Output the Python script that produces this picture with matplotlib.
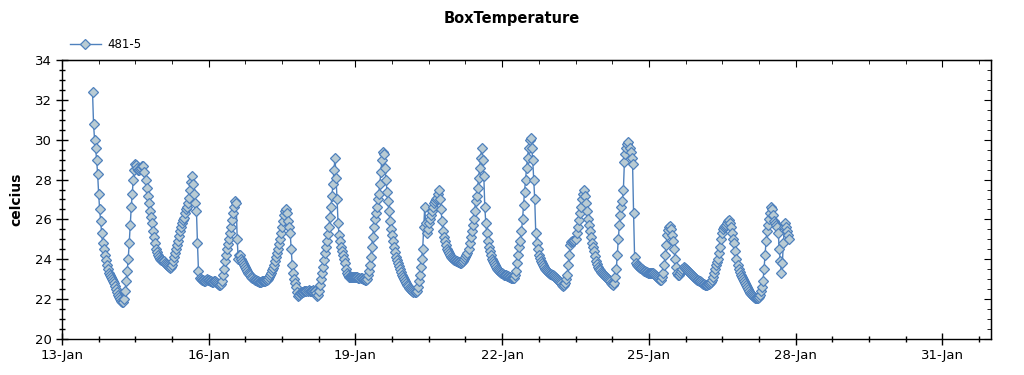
import matplotlib
matplotlib.use("Agg")
import matplotlib.pyplot as plt
import matplotlib.dates as mdates
import matplotlib.ticker as mticker
import pandas as pd

# half-hourly readings of sensor 481-5, first reading 13-Jan 15:00
start_time = "2012-01-13 15:00"
series_name = "481-5"

jan13 = [32.4, 30.8, 30.0, 29.6, 29.0, 28.3, 27.3, 26.5, 25.9, 25.3, 24.8, 24.5,
         24.2, 23.95, 23.7, 23.5, 23.3, 23.2]
jan14 = [23.1, 23.0, 22.9, 22.8, 22.65, 22.5, 22.35, 22.2, 22.1, 22.0, 21.9, 21.85,
         21.85, 22.0, 22.4, 22.9, 23.4, 24.0, 24.8, 25.7, 26.6, 27.3, 28.0, 28.5,
         28.8, 28.75, 28.6, 28.5, 28.5, 28.55, 28.6, 28.7, 28.7, 28.4, 28.0, 27.6,
         27.2, 26.8, 26.4, 26.1, 25.8, 25.4, 25.1, 24.8, 24.5, 24.35, 24.2, 24.1]
jan15 = [24.0, 23.98, 23.95, 23.92, 23.9, 23.82, 23.75, 23.7, 23.65, 23.6, 23.55, 23.6,
         23.7, 23.9, 24.1, 24.3, 24.5, 24.7, 24.9, 25.15, 25.4, 25.6, 25.8, 25.95,
         26.05, 26.3, 26.5, 26.6, 26.8, 27.1, 27.5, 27.9, 28.2, 27.8, 27.3, 26.8,
         26.4, 24.8, 23.4, 23.05, 23.0, 22.95, 22.95, 22.9, 22.9, 22.95, 23.0, 22.95]
jan16 = [22.95, 22.9, 22.9, 22.85, 22.85, 22.9, 22.9, 22.85, 22.8, 22.75, 22.7, 22.7,
         22.75, 22.9, 23.2, 23.5, 23.9, 24.2, 24.5, 24.75, 25.0, 25.3, 25.6, 25.95,
         26.3, 26.6, 26.9, 26.8, 25.0, 24.0, 24.2, 24.2, 24.0, 23.9, 23.8, 23.7,
         23.6, 23.5, 23.4, 23.3, 23.25, 23.2, 23.1, 23.05, 23.0, 22.97, 22.95, 22.92]
jan17 = [22.9, 22.88, 22.87, 22.88, 22.9, 22.9, 22.9, 22.92, 22.95, 22.97, 23.0, 23.1,
         23.2, 23.3, 23.45, 23.55, 23.7, 23.9, 24.1, 24.3, 24.5, 24.75, 25.0, 25.3,
         25.6, 25.9, 26.2, 26.4, 26.5, 26.3, 25.9, 25.6, 25.3, 24.5, 23.7, 23.3,
         23.0, 22.8, 22.6, 22.35, 22.15, 22.2, 22.3, 22.32, 22.35, 22.37, 22.4, 22.4]
jan18 = [22.4, 22.42, 22.45, 22.42, 22.4, 22.42, 22.45, 22.42, 22.4, 22.3, 22.15, 22.2,
         22.4, 22.7, 23.0, 23.3, 23.6, 23.95, 24.3, 24.6, 24.9, 25.25, 25.6, 26.1,
         26.6, 27.2, 27.8, 28.5, 29.1, 28.1, 27.0, 25.8, 25.2, 24.9, 24.6, 24.4,
         24.2, 24.0, 23.8, 23.5, 23.3, 23.2, 23.1, 23.1, 23.1, 23.1, 23.1, 23.1]
jan19 = [23.1, 23.1, 23.1, 23.08, 23.05, 23.05, 23.05, 23.02, 23.0, 22.97, 22.95, 23.0,
         23.2, 23.4, 23.7, 24.1, 24.6, 25.1, 25.6, 26.0, 26.3, 26.6, 27.0, 27.3,
         27.8, 28.4, 29.0, 29.4, 29.3, 28.6, 28.0, 27.4, 26.9, 26.4, 25.9, 25.5,
         25.2, 24.9, 24.6, 24.35, 24.1, 23.95, 23.8, 23.65, 23.5, 23.35, 23.2, 23.1]
jan20 = [23.0, 22.9, 22.8, 22.72, 22.65, 22.57, 22.5, 22.45, 22.4, 22.38, 22.37, 22.38,
         22.4, 22.6, 22.9, 23.2, 23.6, 24.0, 24.5, 25.6, 26.6, 25.8, 25.3, 25.5,
         25.8, 26.0, 26.2, 26.4, 26.6, 26.8, 26.9, 27.0, 27.1, 27.3, 27.5, 27.0,
         26.5, 25.9, 25.4, 25.1, 24.9, 24.7, 24.5, 24.4, 24.3, 24.2, 24.1, 24.05]
jan21 = [24.0, 23.97, 23.95, 23.92, 23.9, 23.87, 23.85, 23.82, 23.8, 23.85, 23.9, 24.0,
         24.1, 24.2, 24.3, 24.5, 24.8, 25.1, 25.4, 25.7, 26.0, 26.4, 26.9, 27.2,
         27.6, 28.1, 28.6, 29.1, 29.6, 29.0, 28.2, 26.6, 25.8, 25.3, 24.9, 24.6,
         24.4, 24.2, 24.0, 23.9, 23.8, 23.7, 23.6, 23.52, 23.45, 23.4, 23.35, 23.32]
jan22 = [23.3, 23.25, 23.2, 23.2, 23.2, 23.17, 23.15, 23.12, 23.1, 23.07, 23.05, 23.05,
         23.05, 23.2, 23.4, 23.8, 24.2, 24.6, 24.9, 25.4, 26.0, 26.7, 27.4, 28.0,
         28.6, 29.1, 29.6, 30.0, 30.1, 29.6, 29.0, 28.0, 27.0, 25.3, 24.8, 24.5,
         24.2, 24.05, 23.9, 23.8, 23.7, 23.6, 23.5, 23.45, 23.4, 23.35, 23.3, 23.27]
jan23 = [23.25, 23.22, 23.2, 23.17, 23.13, 23.07, 23.0, 22.95, 22.9, 22.85, 22.8, 22.7,
         22.65, 22.7, 22.8, 23.0, 23.2, 23.7, 24.2, 24.7, 24.85, 24.9, 24.9, 24.95,
         25.0, 25.3, 25.6, 25.95, 26.3, 26.6, 27.0, 27.3, 27.5, 27.2, 26.8, 26.4,
         26.0, 25.7, 25.4, 25.1, 24.8, 24.6, 24.4, 24.15, 23.9, 23.75, 23.6, 23.52]
jan24 = [23.45, 23.37, 23.3, 23.25, 23.2, 23.15, 23.1, 23.05, 23.0, 22.95, 22.9, 22.8,
         22.75, 22.7, 22.8, 23.1, 23.5, 24.2, 25.0, 25.7, 26.2, 26.6, 26.9, 27.5,
         28.9, 29.3, 29.6, 29.8, 29.9, 29.6, 29.4, 29.1, 28.8, 26.3, 24.1, 23.8,
         23.7, 23.65, 23.6, 23.57, 23.55, 23.5, 23.45, 23.42, 23.4, 23.37, 23.35, 23.32]
jan25 = [23.3, 23.3, 23.3, 23.3, 23.3, 23.25, 23.2, 23.15, 23.1, 23.05, 23.0, 22.97,
         22.96, 23.1, 23.3, 23.7, 24.2, 24.7, 25.2, 25.45, 25.6, 25.65, 25.5, 25.2,
         24.9, 24.5, 24.0, 23.6, 23.3, 23.2, 23.2, 23.3, 23.4, 23.5, 23.6, 23.55,
         23.5, 23.45, 23.4, 23.35, 23.3, 23.25, 23.2, 23.15, 23.1, 23.05, 23.0, 22.97]
jan26 = [22.96, 22.93, 22.9, 22.85, 22.8, 22.77, 22.75, 22.72, 22.7, 22.72, 22.75, 22.77,
         22.8, 22.87, 22.95, 23.1, 23.3, 23.5, 23.7, 23.85, 24.0, 24.3, 24.6, 25.0,
         25.3, 25.5, 25.6, 25.65, 25.7, 25.8, 25.9, 25.95, 25.8, 25.6, 25.3, 25.0,
         24.8, 24.4, 24.0, 23.7, 23.5, 23.35, 23.2, 23.1, 23.0, 22.9, 22.8, 22.7]
jan27 = [22.6, 22.5, 22.4, 22.32, 22.25, 22.2, 22.15, 22.1, 22.05, 22.04, 22.05, 22.08,
         22.1, 22.2, 22.4, 22.6, 22.9, 23.5, 24.2, 24.9, 25.4, 25.7, 26.0, 26.3,
         26.6, 26.5, 26.2, 25.9, 25.8, 25.7, 25.6, 25.3, 24.5, 23.9, 23.3, 23.8,
         24.8, 25.6, 25.8, 25.6, 25.4, 25.2, 25.0]

temps = (jan13 + jan14 + jan15 + jan16 + jan17 + jan18 + jan19 + jan20 +
         jan21 + jan22 + jan23 + jan24 + jan25 + jan26 + jan27)
times = pd.date_range(start_time, periods=len(temps), freq="30min")

line_col = "#4f81bd"
face_col = "#b9cbd3"

x_start = pd.Timestamp("2012-01-13")
x_end = pd.Timestamp("2012-02-01")
# major tick every 3 days, 3 minor ticks between (every 18 h)
major_ticks = mdates.date2num(pd.date_range(x_start, "2012-01-31", freq="3D"))
minor_ticks = mdates.date2num(pd.date_range(x_start, x_end, freq="18h"))

fig = plt.figure(figsize=(10.24, 3.75), dpi=100)
ax = fig.add_axes([0.0605, 0.096, 0.9075, 0.744])

ax.plot(times, temps, color=line_col, linewidth=1, marker="D", markersize=4.8,
        markerfacecolor=face_col, markeredgecolor=line_col, markeredgewidth=0.9,
        label=series_name)

ax.set_xlim(x_start, x_end)
ax.set_ylim(20, 34)
ax.xaxis.set_major_locator(mticker.FixedLocator(major_ticks))
ax.xaxis.set_minor_locator(mticker.FixedLocator(minor_ticks))
ax.xaxis.set_major_formatter(mdates.DateFormatter("%d-%b"))
ax.yaxis.set_major_locator(plt.MultipleLocator(2))
ax.yaxis.set_minor_locator(plt.MultipleLocator(0.5))

ax.tick_params(which="major", direction="inout", length=8, width=1, labelsize=9.5)
ax.tick_params(which="minor", direction="inout", length=4, width=1)
for s in ax.spines.values():
    s.set_linewidth(1)

# ticks on top / right, pointing inwards
top = ax.secondary_xaxis("top")
top.xaxis.set_major_locator(mticker.FixedLocator(major_ticks))
top.xaxis.set_minor_locator(mticker.FixedLocator(minor_ticks))
top.tick_params(which="major", direction="in", length=5, labeltop=False)
top.tick_params(which="minor", direction="in", length=3)
right = ax.secondary_yaxis("right")
right.yaxis.set_major_locator(plt.MultipleLocator(2))
right.yaxis.set_minor_locator(plt.MultipleLocator(0.5))
right.tick_params(which="major", direction="in", length=5, labelright=False)
right.tick_params(which="minor", direction="in", length=3)

ax.set_ylabel("celcius", fontsize=10, fontweight="bold", labelpad=8)
fig.suptitle("BoxTemperature", y=0.97, fontsize=10.5, fontweight="bold")

fig.legend(loc="center left", bbox_to_anchor=(0.058, 0.88), frameon=False,
           fontsize=8.5, handlelength=2.6, handletextpad=0.6)

fig.savefig("out.png", dpi=100)
